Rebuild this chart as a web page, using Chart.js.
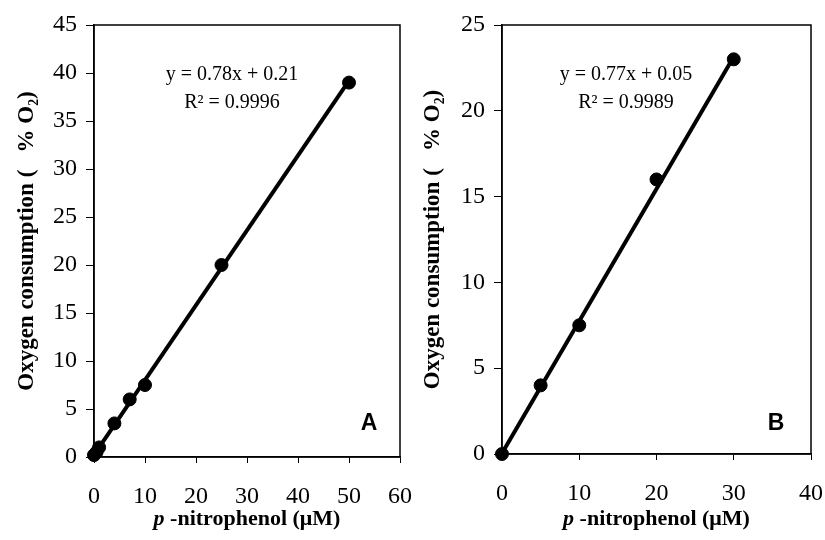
<!DOCTYPE html>
<html>
<head>
<meta charset="utf-8">
<script src="https://cdn.jsdelivr.net/npm/chart.js@4.4.1/dist/chart.umd.min.js"></script>
<style>
  body { margin: 0; background: #fff; }
  .wrap { position: absolute; top: 0; height: 540px; }
  #wrapA { left: 0; width: 415px; }
  #wrapB { left: 410px; width: 415px; }
</style>
</head>
<body>
<div class="wrap" id="wrapA"><canvas id="chartA"></canvas></div>
<div class="wrap" id="wrapB"><canvas id="chartB"></canvas></div>
<script>
// panel A
const xA = [0, 0.5, 1, 4, 7, 10, 25, 50]
const yA = [0.2, 0.5, 1, 3.5, 6, 7.5, 20, 39]
const fitXA = [0, 50]
const fitYA = [0.21, 39.21]
const eqA = ['y = 0.78x + 0.21', 'R² = 0.9996']

// panel B
const xB = [0, 5, 10, 20, 30]
const yB = [0, 4, 7.5, 16, 23]
const fitXB = [0, 30]
const fitYB = [0.05, 23.15]
const eqB = ['y = 0.77x + 0.05', 'R² = 0.9989']

const serif = '"Liberation Serif", "Times New Roman", serif'

function pts(xs, ys) {
    return xs.map((x, i) => ({x: x, y: ys[i]}))
}

function noPad(s) {
    s.paddingLeft = 0
    s.paddingRight = 0
    s.paddingTop = 0
    s.paddingBottom = 0
}

const boxAndText = {
    id: 'boxAndText',
    afterDraw(chart, args, opts) {
        const c = chart.ctx
        const a = chart.chartArea
        c.save()
        c.strokeStyle = '#000'
        c.lineWidth = 1.5
        c.strokeRect(a.left, a.top, a.right - a.left, a.bottom - a.top)

        // equation
        c.fillStyle = '#000'
        c.textAlign = 'center'
        c.textBaseline = 'middle'
        c.font = '20px ' + serif
        c.fillText(opts.eq[0], opts.eqX, 75)
        c.fillText(opts.eq[1], opts.eqX, 103)

        // panel letter
        c.font = 'bold 23px "Liberation Sans", Arial, sans-serif'
        c.fillText(opts.letter, opts.letterX, 424)

        // x title
        const p = 'p'
        const rest = ' -nitrophenol (μM)'
        c.font = 'bold italic 22px ' + serif
        const wP = c.measureText(p).width
        c.font = 'bold 22px ' + serif
        const wR = c.measureText(rest).width
        let sx = (a.left + a.right) / 2 - (wP + wR) / 2
        c.textAlign = 'left'
        c.font = 'bold italic 22px ' + serif
        c.fillText(p, sx, 519)
        c.font = 'bold 22px ' + serif
        c.fillText(rest, sx + wP, 519)

        // y title
        c.translate(opts.yTitleX, (a.top + a.bottom) / 2)
        c.rotate(-Math.PI / 2)
        c.textAlign = 'center'
        c.font = 'bold 23px ' + serif
        c.fillText('Oxygen consumption (   % O₂)', 0, 0)
        c.restore()
    }
}

function makeChart(id, xs, ys, fx, fy, xmax, ymax, pad, opts) {
    return new Chart(document.getElementById(id), {
        type: 'scatter',
        data: {
            datasets: [{
                type: 'line',
                data: pts(fx, fy),
                borderColor: '#000',
                borderWidth: 4,
                pointRadius: 0,
                fill: false,
                clip: false
            }, {
                data: pts(xs, ys),
                backgroundColor: '#000',
                borderColor: '#000',
                pointRadius: 6.5,
                clip: false
            }]
        },
        options: {
            responsive: true,
            maintainAspectRatio: false,
            animation: false,
            layout: { padding: { top: pad.top, right: pad.right, left: 0, bottom: 0 } },
            plugins: {
                legend: { display: false },
                tooltip: { enabled: false },
                boxAndText: opts
            },
            scales: {
                x: {
                    type: 'linear',
                    min: 0, max: xmax,
                    ticks: { stepSize: 10, color: '#000', padding: 19, maxRotation: 0, font: { family: serif, size: 24 } },
                    grid: { display: true, drawOnChartArea: false, tickLength: 6, tickColor: '#000' },
                    border: { color: '#000', width: 1.5 },
                    afterFit(s) { s.height = pad.xh; noPad(s) }
                },
                y: {
                    min: 0, max: ymax,
                    ticks: { stepSize: 5, color: '#000', padding: 9, font: { family: serif, size: 24 } },
                    grid: { display: true, drawOnChartArea: false, tickLength: 8, tickColor: '#000' },
                    border: { color: '#000', width: 1.5 },
                    afterFit(s) { s.width = pad.yw; noPad(s) }
                }
            }
        },
        plugins: [boxAndText]
    })
}

makeChart('chartA', xA, yA, fitXA, fitYA, 60, 45,
    { top: 25, right: 15, yw: 94, xh: 83 },
    { eq: eqA, eqX: 232, letter: 'A', letterX: 369, yTitleX: 27 })

makeChart('chartB', xB, yB, fitXB, fitYB, 40, 25,
    { top: 25, right: 14, yw: 92, xh: 86 },
    { eq: eqB, eqX: 216, letter: 'B', letterX: 366, yTitleX: 23 })
</script>
</body>
</html>
